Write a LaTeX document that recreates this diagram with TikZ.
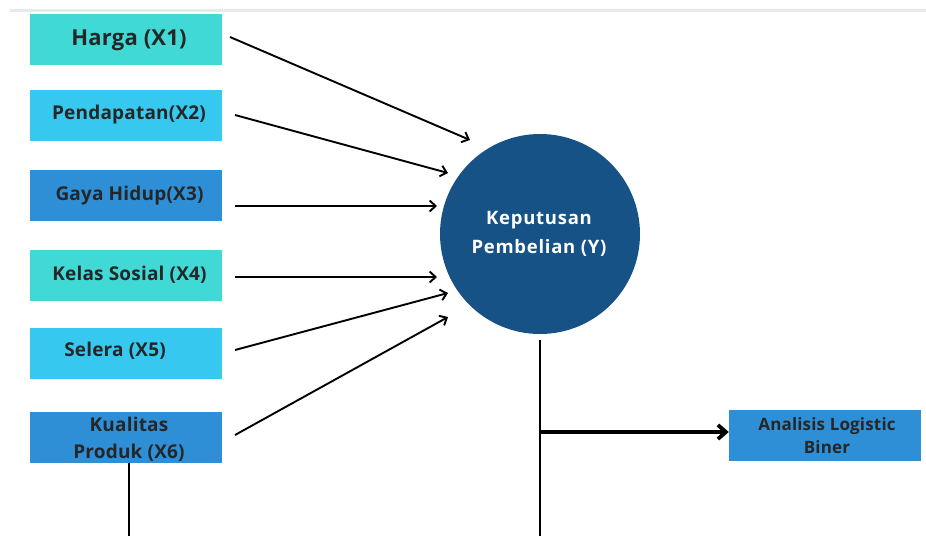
\documentclass[tikz,border=0pt]{standalone}
\usepackage{fontspec}
\setmainfont{Open Sans}[LetterSpace=1]
\newfontfamily\widefont{Open Sans}[LetterSpace=4]
\usetikzlibrary{arrows.meta}
\definecolor{turq}{HTML}{40D9D6}
\definecolor{lblue}{HTML}{36C8EE}
\definecolor{mblue}{HTML}{2E8FD6}
\definecolor{dblue}{HTML}{175287}
\definecolor{topline}{HTML}{E8E8EE}
\tikzset{
  box/.style={rectangle, minimum width=192pt, minimum height=51pt, inner sep=0pt},
  lbl/.style={inner sep=0pt, align=center, font=\bfseries\fontsize{19}{27}\selectfont, text=black!85},
  conn/.style={line width=1.9pt, -{Straight Barb[length=6pt,width=11pt,line width=1.9pt]}},
  plain/.style={line width=1.9pt},
}
\begin{document}
\begin{tikzpicture}[x=1pt,y=-1pt]
\useasboundingbox (0,0) rectangle (926,536);
\draw[topline, line width=3pt] (10,10) -- (926,10);
\node[box, fill=turq] (x1) at (126,39.5) {};
\node[box, fill=lblue] (x2) at (126,115.5) {};
\node[box, fill=mblue] (x3) at (126,195.5) {};
\node[box, fill=turq] (x4) at (126,275.5) {};
\node[box, fill=lblue] (x5) at (126,353.5) {};
\node[box, fill=mblue] (x6) at (126,437.5) {};
\node[lbl, font=\bfseries\fontsize{22}{24}\selectfont] (t1) at (129,40) {Harga (X1)};
\node[lbl] (t2) at (129,115) {Pendapatan(X2)};
\node[lbl] (t3) at (129.5,196) {Gaya Hidup(X3)};
\node[lbl] (t4) at (129.5,275) {Kelas Sosial (X4)};
\node[lbl] (t5) at (115,351) {Selera (X5)};
\node[lbl] (t6) at (129,439.5) {Kualitas\\Produk (X6)};
\node[circle, fill=dblue, minimum size=200pt, inner sep=0pt] (y) at (540,234) {};
\node[lbl, text=white, font=\widefont\bfseries\fontsize{18.5}{29}\selectfont] (ty) at (539,234) {Keputusan\\Pembelian (Y)};
\node[box, fill=mblue] (an) at (825,435.5) {};
\node[lbl, font=\bfseries\fontsize{17}{23}\selectfont] (tan) at (827,435.5) {Analisis Logistic\\Biner};
\coordinate (s1) at (230,37); \coordinate (e1) at (470,140);
\coordinate (s2) at (235,115); \coordinate (e2) at (448,173);
\coordinate (s3) at (235,206); \coordinate (e3) at (437,206);
\coordinate (s4) at (235,277); \coordinate (e4) at (437,277);
\coordinate (s5) at (235,350); \coordinate (e5) at (448,293);
\coordinate (s6) at (235,435); \coordinate (e6) at (448,317);
\draw[conn] (s1) -- (e1);
\draw[conn] (s2) -- (e2);
\draw[conn] (s3) -- (e3);
\draw[conn] (s4) -- (e4);
\draw[conn] (s5) -- (e5);
\draw[conn] (s6) -- (e6);
\coordinate (yb) at (540,340);
\coordinate (ybot) at (540,536);
\coordinate (br) at (540,432);
\draw[plain] (yb) -- (ybot);
\draw[line width=3.8pt, -{Straight Barb[length=8pt,width=14pt,line width=3.8pt]}] (br) -- (an.west |- br);
\coordinate (x6bot) at (129,536);
\draw[plain] (x6.south -| x6bot) -- (x6bot);
\end{tikzpicture}
\end{document}
